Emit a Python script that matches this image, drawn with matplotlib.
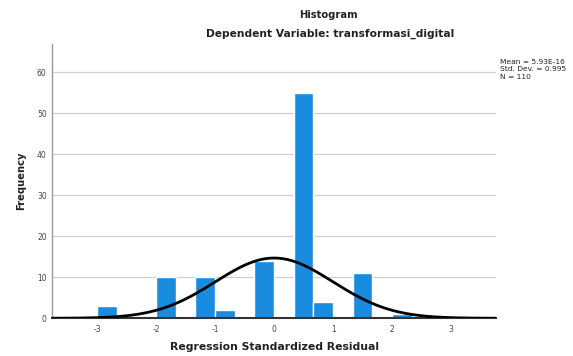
import numpy as np
import matplotlib
matplotlib.use("Agg")
import matplotlib.pyplot as plt

# Histogram of standardized residuals (bin width 1/3, starting at -3)
bin_edges = [-3.0 + i / 3 for i in range(17)]
counts = [3, 0, 0, 10, 0, 10, 2, 0, 14, 0, 55, 4, 0, 11, 0, 1]
mean = 5.93e-16
std_dev = 0.995
n_obs = 110
x_ticks = [-3, -2, -1, 0, 1, 2, 3]
y_ticks = [0, 10, 20, 30, 40, 50, 60]

bar_color = "#1a8ce0"

fig = plt.figure(figsize=(5.73, 3.56), dpi=100)
ax = fig.add_axes([52.3 / 573, 1 - 318.3 / 356, (496 - 52.3) / 573, (318.3 - 44) / 356])

lefts = np.array(bin_edges[:-1])
widths = np.diff(bin_edges)
ax.bar(lefts, counts, width=widths, align="edge", color=bar_color,
       edgecolor="white", linewidth=1.0, zorder=2)

# Normal curve scaled to counts
xs = np.linspace(-3.76, 3.76, 400)
bw = widths[0]
ys = n_obs * bw / (std_dev * np.sqrt(2 * np.pi)) * np.exp(-0.5 * ((xs - mean) / std_dev) ** 2)
ax.plot(xs, ys, color="black", linewidth=2.0, zorder=4, solid_capstyle="butt")

ax.set_xlim(-3.76, 3.76)
ax.set_ylim(0, 66.9)
ax.set_xticks(x_ticks)
ax.set_xticklabels([str(t) for t in x_ticks])
ax.set_yticks(y_ticks)
ax.set_yticklabels([str(t) for t in y_ticks])
ax.tick_params(axis="both", length=0, labelsize=5.5, labelcolor="#444444")
ax.tick_params(axis="x", pad=5)
ax.tick_params(axis="y", pad=4)

ax.yaxis.grid(True, color="#d0d0d0", linewidth=0.9, zorder=0)
ax.set_axisbelow(True)
for side in ("top", "right"):
    ax.spines[side].set_visible(False)
ax.spines["left"].set_color("#999999")
ax.spines["left"].set_linewidth(1.0)
ax.spines["bottom"].set_color("#333333")
ax.spines["bottom"].set_linewidth(1.5)
ax.spines["bottom"].set_zorder(3)

fig.text(328 / 573, 1 - 15 / 356, "Histogram", ha="center", va="center",
         fontsize=7.2, fontweight="bold", color="#222222")
fig.text(330 / 573, 1 - 34 / 356, "Dependent Variable: transformasi_digital",
         ha="center", va="center", fontsize=7.7, fontweight="bold", color="#222222")
fig.text(275 / 573, 1 - 347 / 356, "Regression Standardized Residual",
         ha="center", va="center", fontsize=7.8, fontweight="bold", color="#222222")
fig.text(20.7 / 573, 1 - 181 / 356, "Frequency", ha="center", va="center",
         rotation=90, fontsize=7.2, fontweight="bold", color="#222222")

stats_lines = [f"Mean = {mean:.2E}",
               f"Std. Dev. = {std_dev:.3f}",
               f"N = {n_obs}"]
for i, line in enumerate(stats_lines):
    fig.text(500 / 573, 1 - (61.5 + 7.6 * i) / 356, line, ha="left", va="center",
             fontsize=5.4, color="#222222")

fig.savefig("out.png", dpi=100)
